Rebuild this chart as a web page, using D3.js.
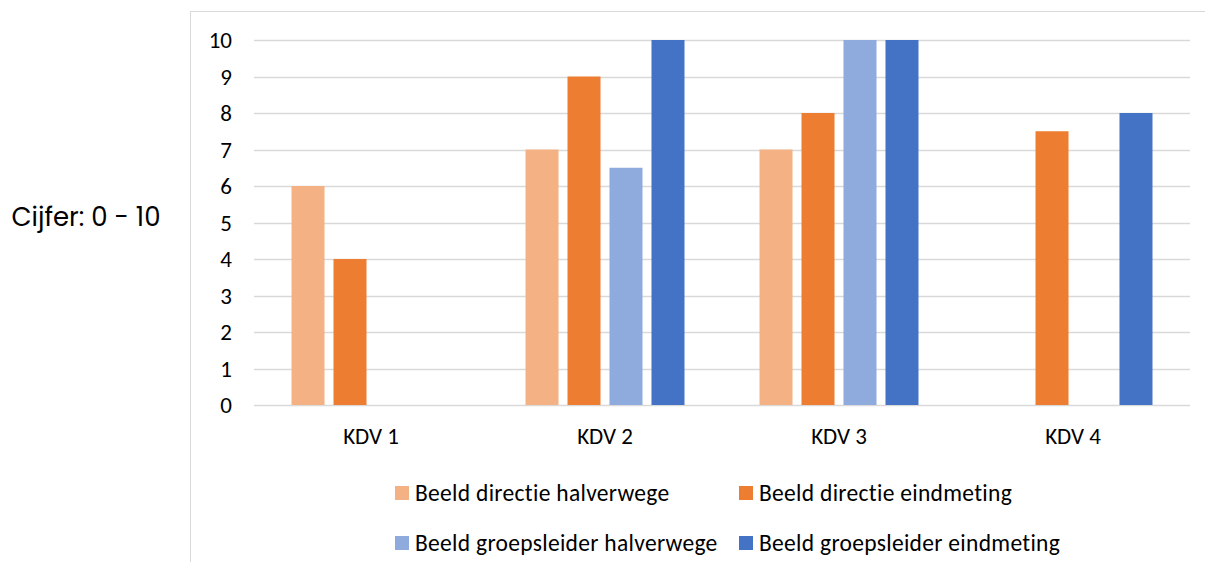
<!DOCTYPE html>
<html>
<head>
<meta charset="utf-8">
<script src="https://cdn.jsdelivr.net/npm/d3@7"></script>
<style>
  body { margin: 0; background: #fff; }
  svg { display: block; }
</style>
</head>
<body>
<div id="chart"></div>
<script>
const categories = ['KDV 1', 'KDV 2', 'KDV 3', 'KDV 4'];

const seriesNames = [
  'Beeld directie halverwege',
  'Beeld directie eindmeting',
  'Beeld groepsleider halverwege',
  'Beeld groepsleider eindmeting',
];

// one value per category, null = no bar
const directieHalverwege = [6, 7, 7, null];
const directieEindmeting = [4, 9, 8, 7.5];
const groepsleiderHalverwege = [null, 6.5, 10, null];
const groepsleiderEindmeting = [null, 10, 10, 8];

const yTicks = [0, 1, 2, 3, 4, 5, 6, 7, 8, 9, 10];

const COLORS = ['#f4b183', '#ed7d31', '#8faadc', '#4472c4'];

const seriesValues = [
  directieHalverwege,
  directieEindmeting,
  groepsleiderHalverwege,
  groepsleiderEindmeting,
];

const width = 1205;
const height = 562;

const margins = { left: 254, right: 15, top: 40, bottom: 157 };

const svg = d3.select('#chart')
  .append('svg')
    .attr('width', width)
    .attr('height', height);

// chart frame (runs off the right and bottom edges)
svg.append('rect')
  .attr('x', 190.5)
  .attr('y', 11.5)
  .attr('width', 1100)
  .attr('height', 700)
  .attr('fill', 'none')
  .attr('stroke', '#d9d9d9');

const xScale = d3.scaleBand()
  .domain(categories)
  .range([margins.left, width - margins.right]);

const innerScale = d3.scaleBand()
  .domain(d3.range(seriesNames.length))
  .range([0, xScale.bandwidth()])
  .paddingInner(0.214)
  .paddingOuter(0.893);

const yScale = d3.scaleLinear()
  .domain([0, 10])
  .range([height - margins.bottom, margins.top]);

// gridlines
svg.append('g')
  .selectAll('line')
  .data(yTicks)
  .join('line')
    .attr('x1', margins.left)
    .attr('x2', width - margins.right)
    .attr('y1', d => Math.round(yScale(d)) + 0.5)
    .attr('y2', d => Math.round(yScale(d)) + 0.5)
    .attr('stroke', '#d9d9d9')
    .attr('stroke-width', 1.3);

const labelFont = 'Carlito, Lato, sans-serif';

// tick labels
svg.append('g')
  .selectAll('text')
  .data(yTicks)
  .join('text')
    .attr('x', 232)
    .attr('y', d => yScale(d))
    .attr('dy', '0.35em')
    .attr('text-anchor', 'end')
    .attr('font-family', labelFont)
    .attr('font-size', 23)
    .attr('fill', '#000')
    .text(d => d);

// bars
const bars = [];
categories.forEach((cat, ci) => {
  seriesValues.forEach((vals, si) => {
    if (vals[ci] != null) bars.push({ cat, si, value: vals[ci] });
  });
});

svg.append('g')
  .selectAll('rect')
  .data(bars)
  .join('rect')
    .attr('x', d => xScale(d.cat) + innerScale(d.si))
    .attr('y', d => yScale(d.value))
    .attr('width', innerScale.bandwidth())
    .attr('height', d => yScale(0) - yScale(d.value))
    .attr('fill', d => COLORS[d.si]);

// category labels
svg.append('g')
  .selectAll('text')
  .data(categories)
  .join('text')
    .attr('x', d => xScale(d) + xScale.bandwidth() / 2)
    .attr('y', 436)
    .attr('dy', '0.35em')
    .attr('text-anchor', 'middle')
    .attr('font-family', labelFont)
    .attr('font-size', 23)
    .attr('fill', '#000')
    .text(d => d);

// y axis title
svg.append('text')
  .attr('x', 86)
  .attr('y', 217)
  .attr('dy', '0.35em')
  .attr('text-anchor', 'middle')
  .attr('font-family', 'Poppins, Inter, sans-serif')
  .attr('font-size', 26)
  .attr('fill', '#000')
  .text('Cijfer: 0 - 10');

// legend, 2 x 2
const legendX = [395, 739];
const legendY = [493, 543];

const legend = svg.append('g')
  .selectAll('g')
  .data(seriesNames)
  .join('g')
    .attr('transform', (d, i) =>
      'translate(' + legendX[i % 2] + ',' + legendY[Math.floor(i / 2)] + ')');

legend.append('rect')
  .attr('x', 0)
  .attr('y', -7)
  .attr('width', 14)
  .attr('height', 14)
  .attr('fill', (d, i) => COLORS[i]);

legend.append('text')
  .attr('x', 20)
  .attr('y', 0)
  .attr('dy', '0.35em')
  .attr('font-family', labelFont)
  .attr('font-size', 23.5)
  .attr('letter-spacing', 0.3)
  .attr('fill', '#000')
  .text(d => d);
</script>
</body>
</html>
